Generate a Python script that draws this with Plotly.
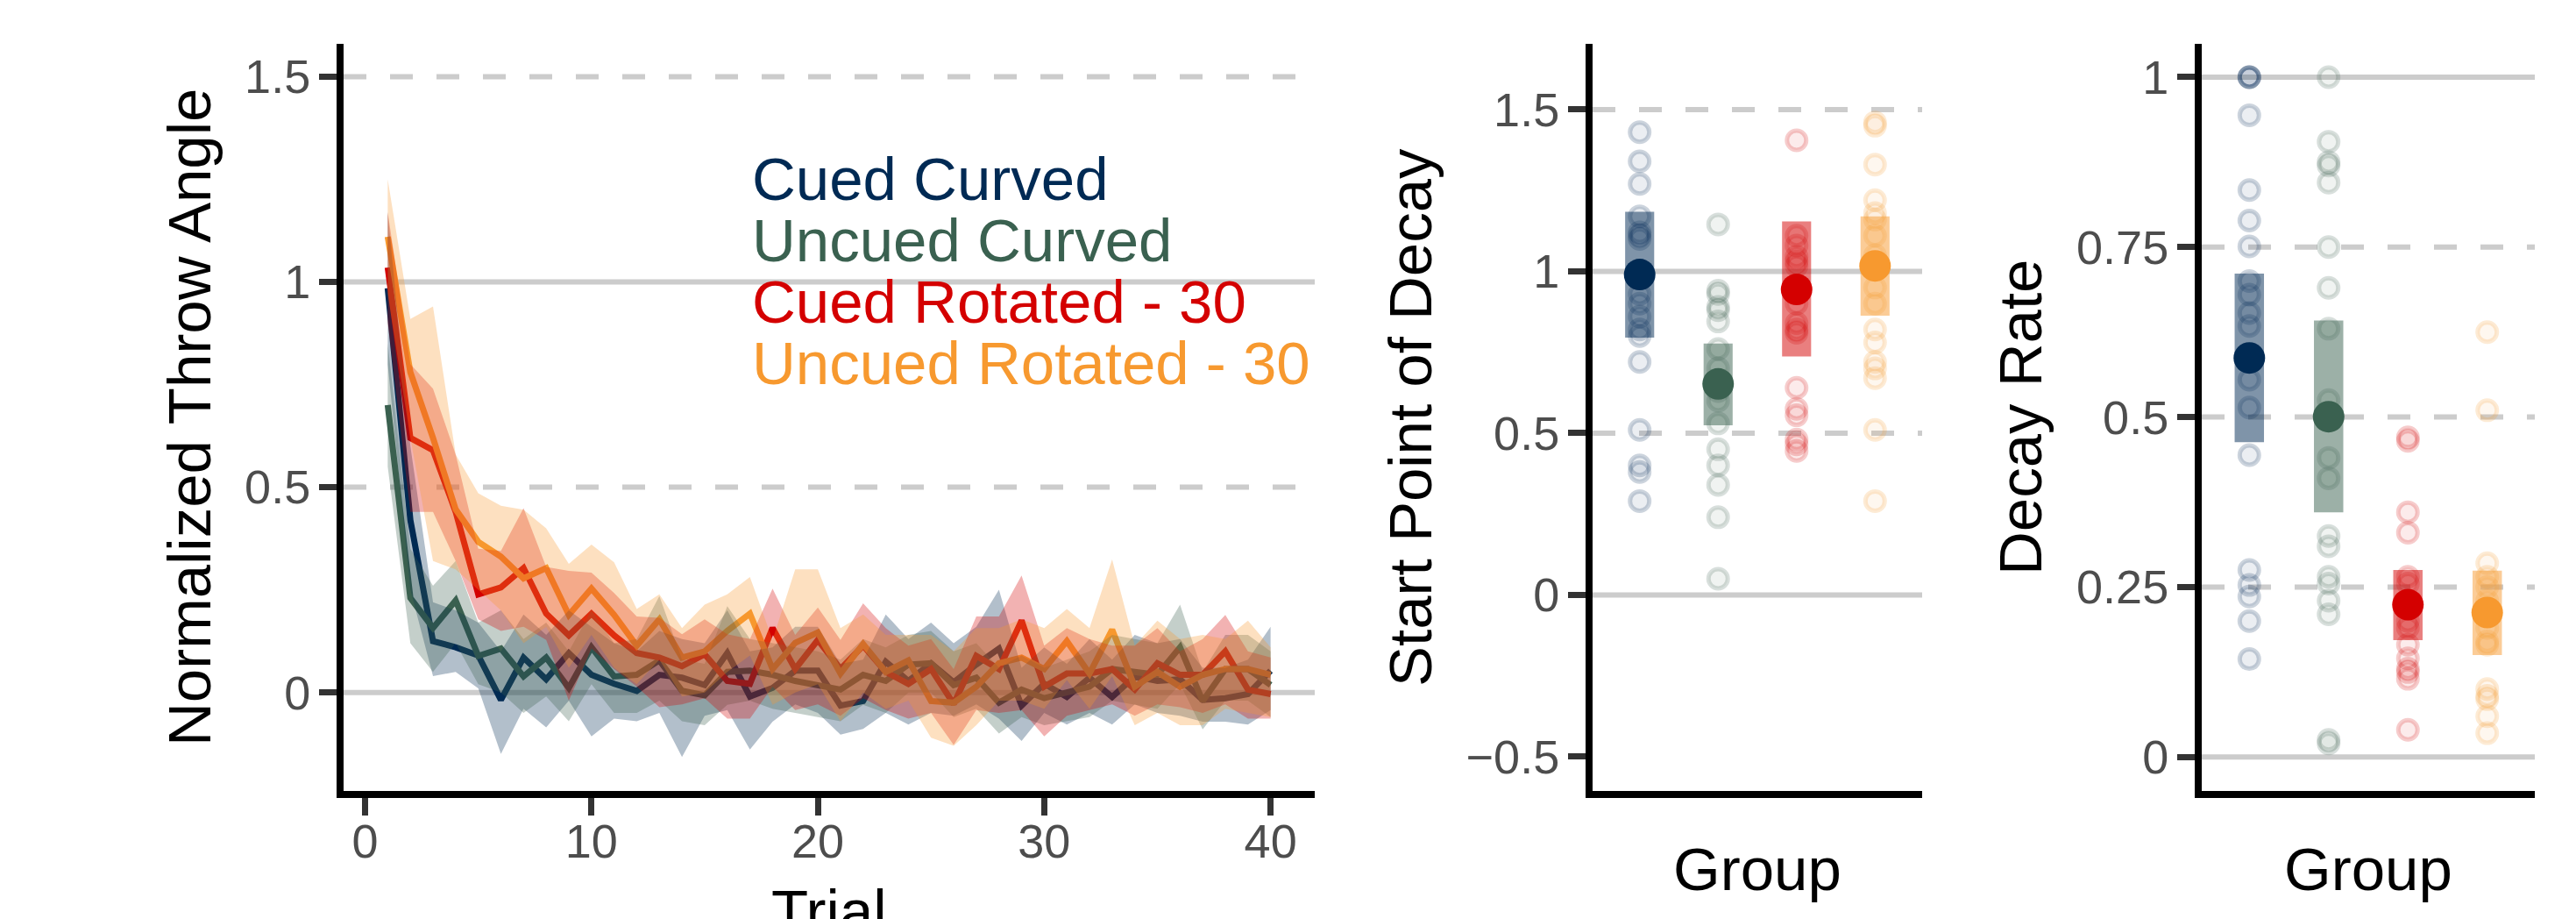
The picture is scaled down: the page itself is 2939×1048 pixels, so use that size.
import plotly.graph_objects as go

W, H = 2939, 1048

# ---------------- data ----------------
trials = list(range(1, 41))
group_names = ["Cued Curved", "Uncued Curved", "Cued Rotated - 30", "Uncued Rotated - 30"]
group_colors = ["#002A54", "#3A6150", "#D40000", "#F7992F"]
group_rgb = [(0, 42, 84), (58, 97, 80), (212, 0, 0), (247, 153, 47)]

cc_mean = [0.985, 0.42, 0.125, 0.11, 0.09, -0.018, 0.085, 0.032, 0.096, 0.043, 0.021, 0.004, 0.043, 0.036, 0.018, 0.096, -0.01, 0.011, 0.053, 0.053,
           -0.032, -0.021, 0.075, 0.028, 0.071, 0.025, 0.068, 0.107, -0.032, 0.021, -0.011, 0.036, -0.011, 0.039, 0.028, 0.032, -0.018, -0.014, -0.004, 0.053]
cc_lo = [0.80, 0.25, 0.04, 0.05, 0.01, -0.15, -0.04, -0.085, -0.02, -0.107, -0.064, -0.07, -0.05, -0.157, -0.057, -0.043, -0.139, -0.071, -0.029, -0.05,
         -0.103, -0.089, -0.05, -0.078, -0.05, -0.057, -0.029, -0.064, -0.118, -0.05, -0.078, -0.05, -0.078, -0.029, -0.05, -0.057, -0.071, -0.071, -0.078, -0.043]
cc_hi = [1.17, 0.60, 0.22, 0.20, 0.17, 0.10, 0.19, 0.14, 0.20, 0.16, 0.12, 0.10, 0.15, 0.13, 0.12, 0.20, 0.10, 0.11, 0.16, 0.16,
         0.07, 0.08, 0.19, 0.13, 0.17, 0.12, 0.16, 0.25, 0.06, 0.11, 0.07, 0.13, 0.08, 0.14, 0.12, 0.13, 0.06, 0.06, 0.08, 0.16]

uc_mean = [0.70, 0.23, 0.157, 0.224, 0.089, 0.107, 0.039, 0.085, 0.011, 0.110, 0.039, 0.043, 0.078, 0.004, -0.007, 0.050, 0.053, 0.043, 0.028, 0.018,
           0.007, 0.043, 0.028, 0.068, 0.071, 0.018, 0.036, -0.025, 0.007, -0.014, 0.0, 0.014, 0.057, 0.050, 0.043, 0.110, -0.021, 0.057, 0.057, 0.018]
uc_lo = [0.55, 0.12, 0.05, 0.12, 0.02, 0.0, -0.05, -0.01, -0.07, 0.02, -0.05, -0.05, -0.02, -0.07, -0.08, -0.03, -0.02, -0.04, -0.05, -0.06,
         -0.07, -0.03, -0.05, 0.0, 0.0, -0.06, -0.04, -0.10, -0.06, -0.08, -0.07, -0.06, -0.02, -0.03, -0.04, 0.02, -0.09, -0.02, -0.02, -0.06]
uc_hi = [0.85, 0.35, 0.26, 0.32, 0.17, 0.20, 0.13, 0.17, 0.10, 0.20, 0.12, 0.13, 0.235, 0.08, 0.07, 0.21, 0.13, 0.12, 0.11, 0.10,
         0.08, 0.13, 0.11, 0.14, 0.15, 0.10, 0.12, 0.06, 0.09, 0.06, 0.08, 0.10, 0.14, 0.13, 0.12, 0.214, 0.05, 0.14, 0.14, 0.10]

cr_mean = [1.035, 0.62, 0.59, 0.44, 0.239, 0.256, 0.303, 0.192, 0.139, 0.192, 0.139, 0.096, 0.085, 0.064, 0.093, 0.028, 0.021, 0.157, 0.057, 0.128,
           0.057, 0.114, 0.05, 0.021, 0.057, -0.028, 0.089, 0.057, 0.175, 0.014, 0.046, 0.046, 0.057, 0.007, 0.071, 0.043, 0.043, 0.10, 0.007, -0.004]
cr_lo = [0.90, 0.44, 0.44, 0.32, 0.178, 0.15, 0.16, 0.128, -0.02, 0.107, 0.057, 0.014, -0.036, -0.029, -0.014, -0.064, -0.064, 0.014, -0.043, -0.029,
         -0.057, -0.014, -0.043, -0.064, -0.05, -0.128, -0.043, -0.05, -0.043, -0.107, -0.057, -0.043, -0.029, -0.057, -0.029, -0.036, -0.05, -0.029, -0.064, -0.064]
cr_hi = [1.17, 0.80, 0.74, 0.58, 0.35, 0.345, 0.449, 0.306, 0.296, 0.292, 0.242, 0.185, 0.182, 0.142, 0.178, 0.142, 0.13, 0.253, 0.14, 0.207,
         0.128, 0.217, 0.157, 0.114, 0.13, 0.057, 0.185, 0.185, 0.285, 0.114, 0.157, 0.13, 0.114, 0.114, 0.157, 0.10, 0.13, 0.189, 0.10, 0.085]

ur_mean = [1.11, 0.78, 0.62, 0.446, 0.367, 0.331, 0.278, 0.303, 0.189, 0.253, 0.189, 0.114, 0.178, 0.085, 0.10, 0.15, 0.192, 0.057, 0.121, 0.146,
           0.046, 0.118, 0.05, 0.078, -0.021, -0.025, 0.014, 0.071, 0.085, 0.057, 0.125, 0.046, 0.153, 0.014, 0.05, 0.014, 0.043, 0.057, 0.057, 0.043]
ur_lo = [0.97, 0.62, 0.32, 0.30, 0.25, 0.20, 0.12, 0.16, 0.06, 0.14, 0.06, 0.02, 0.08, -0.01, 0.0, 0.05, 0.09, -0.03, 0.0, 0.02,
         -0.07, 0.0, -0.04, -0.02, -0.11, -0.13, -0.08, -0.02, -0.02, -0.04, 0.03, -0.04, 0.04, -0.08, -0.05, -0.08, -0.08, -0.04, -0.05, -0.06]
ur_hi = [1.25, 0.91, 0.94, 0.58, 0.485, 0.455, 0.445, 0.40, 0.313, 0.36, 0.317, 0.203, 0.239, 0.157, 0.214, 0.239, 0.281, 0.128, 0.30, 0.30,
         0.157, 0.19, 0.14, 0.14, 0.14, 0.10, 0.157, 0.157, 0.178, 0.157, 0.203, 0.157, 0.324, 0.114, 0.175, 0.13, 0.14, 0.13, 0.175, 0.11]

# Start point of decay (per participant), group means and interval bounds
sp_cc = [1.43, 1.34, 1.27, 1.17, 1.12, 1.11, 1.10, 0.93, 0.90, 0.86, 0.82, 0.80, 0.72, 0.51, 0.40, 0.38, 0.29]
sp_uc = [1.145, 0.94, 0.93, 0.89, 0.88, 0.845, 0.76, 0.70, 0.63, 0.60, 0.53, 0.45, 0.40, 0.34, 0.24, 0.05]
sp_cr = [1.405, 1.11, 1.08, 1.045, 1.03, 1.017, 0.90, 0.84, 0.82, 0.81, 0.64, 0.575, 0.555, 0.48, 0.465, 0.445]
sp_ur = [1.46, 1.45, 1.33, 1.22, 1.18, 1.16, 1.11, 1.05, 0.95, 0.90, 0.82, 0.78, 0.72, 0.70, 0.67, 0.51, 0.29]
sp_mean = [0.99, 0.652, 0.944, 1.017]
sp_lo = [0.795, 0.524, 0.737, 0.863]
sp_hi = [1.184, 0.777, 1.154, 1.170]

# Decay rate
dr_cc = [1.0, 1.0, 1.0, 0.944, 0.834, 0.789, 0.751, 0.70, 0.68, 0.653, 0.634, 0.555, 0.514, 0.444, 0.275, 0.253, 0.236, 0.20, 0.144]
dr_uc = [1.0, 0.905, 0.875, 0.87, 0.845, 0.75, 0.69, 0.63, 0.525, 0.44, 0.41, 0.325, 0.31, 0.265, 0.255, 0.23, 0.21, 0.025, 0.02]
dr_cr = [0.47, 0.465, 0.36, 0.33, 0.265, 0.255, 0.20, 0.19, 0.165, 0.145, 0.13, 0.125, 0.115, 0.04]
dr_ur = [0.625, 0.51, 0.285, 0.265, 0.25, 0.23, 0.19, 0.17, 0.165, 0.10, 0.09, 0.085, 0.06, 0.035]
dr_mean = [0.587, 0.5006, 0.224, 0.2125]
dr_lo = [0.463, 0.36, 0.172, 0.150]
dr_hi = [0.711, 0.642, 0.275, 0.274]

left_ticks = [0, 10, 20, 30, 40]
sp_ticks = [-0.5, 0, 0.5, 1, 1.5]
sp_ticktext = ["\u22120.5", "0", "0.5", "1", "1.5"]
ang_ticks = [0, 0.5, 1, 1.5]
ang_ticktext = ["0", "0.5", "1", "1.5"]
dr_ticks = [0, 0.25, 0.5, 0.75, 1]
dr_ticktext = ["0", "0.25", "0.5", "0.75", "1"]

# ---------------- helpers ----------------
def fx(p):
    return p / W

def fy(p):
    return 1 - p / H

def rgba(rgb, a):
    return "rgba(%d,%d,%d,%.3f)" % (rgb[0], rgb[1], rgb[2], a)

FONT = "Liberation Sans, Arial, sans-serif"
fig = go.Figure()

# ---------------- left panel ----------------
series = [(cc_mean, cc_lo, cc_hi), (uc_mean, uc_lo, uc_hi), (cr_mean, cr_lo, cr_hi), (ur_mean, ur_lo, ur_hi)]
for (m, lo, hi), col in zip(series, group_colors):
    fig.add_trace(go.Scatter(x=trials, y=m, mode="lines", line=dict(color=col, width=7),
                             hoverinfo="skip", xaxis="x", yaxis="y"))
for (m, lo, hi), rgb in zip(series, group_rgb):
    fig.add_trace(go.Scatter(x=trials + trials[::-1], y=hi + lo[::-1], mode="lines", fill="toself",
                             fillcolor=rgba(rgb, 0.3), line=dict(width=0), hoverinfo="skip",
                             xaxis="x", yaxis="y"))

# ---------------- dot panels ----------------
def dot_panel(points, means, los, his, xa, ya):
    gx = [1, 2, 3, 4]
    fig.add_trace(go.Bar(x=gx, y=[h - l for h, l in zip(his, los)], base=los, width=0.37,
                         marker=dict(color=[rgba(c, 0.5) for c in group_rgb], line=dict(width=0)),
                         hoverinfo="skip", xaxis=xa, yaxis=ya))
    for i, pts in enumerate(points):
        fig.add_trace(go.Scatter(x=[gx[i]] * len(pts), y=pts, mode="markers",
                                 marker=dict(size=22, color=rgba(group_rgb[i], 0.08),
                                             line=dict(width=5, color=rgba(group_rgb[i], 0.2))),
                                 hoverinfo="skip", xaxis=xa, yaxis=ya))
    fig.add_trace(go.Scatter(x=gx, y=means, mode="markers",
                             marker=dict(size=36, color=group_colors, line=dict(width=0)),
                             hoverinfo="skip", xaxis=xa, yaxis=ya))

dot_panel([sp_cc, sp_uc, sp_cr, sp_ur], sp_mean, sp_lo, sp_hi, "x2", "y2")
dot_panel([dr_cc, dr_uc, dr_cr, dr_ur], dr_mean, dr_lo, dr_hi, "x3", "y3")

# ---------------- reference lines ----------------
shapes = []
def hlines(yref, xdom, vals):
    for v, d in vals:
        shapes.append(dict(type="line", xref=xdom, yref=yref, x0=0, x1=1, y0=v, y1=v,
                           line=dict(color="#CCCCCC", width=6, dash=("solid" if d == "s" else "26px,27px")),
                           layer="below"))

hlines("y", "x domain", [(0, "s"), (0.5, "d"), (1, "s"), (1.5, "d")])
hlines("y2", "x2 domain", [(0, "s"), (0.5, "d"), (1, "s"), (1.5, "d")])
hlines("y3", "x3 domain", [(0, "s"), (0.25, "d"), (0.5, "d"), (0.75, "d"), (1, "s")])

# ---------------- axes ----------------
tickfont = dict(family=FONT, size=54, color="#4D4D4D")
ydom = [fy(902), fy(50)]
common_y = dict(showline=True, linewidth=8, linecolor="black", ticks="outside", ticklen=20, tickwidth=7,
                tickcolor="#333333", tickfont=tickfont, showgrid=False, zeroline=False, ticklabelstandoff=-1)

fig.update_layout(
    width=W, height=H, margin=dict(l=0, r=0, t=0, b=0),
    plot_bgcolor="white", paper_bgcolor="white", showlegend=False, barmode="overlay",
    xaxis=dict(domain=[fx(392), fx(1500)], range=[-0.95, 41.95], tickvals=left_ticks,
               showline=True, linewidth=8, linecolor="black", ticks="outside", ticklen=20, tickwidth=7,
               tickcolor="#333333", tickfont=tickfont, showgrid=False, zeroline=False, anchor="y",
               ticklabelstandoff=-17),
    yaxis=dict(domain=ydom, range=[-0.24, 1.58], tickvals=ang_ticks, ticktext=ang_ticktext, anchor="x", **common_y),
    xaxis2=dict(domain=[fx(1817), fx(2193)], range=[0.4, 4.6], showline=True, linewidth=8, linecolor="black",
                showticklabels=False, ticks="", showgrid=False, zeroline=False, anchor="y2"),
    yaxis2=dict(domain=ydom, range=[-0.606, 1.703], tickvals=sp_ticks, ticktext=sp_ticktext, anchor="x2", **common_y),
    xaxis3=dict(domain=[fx(2512), fx(2892)], range=[0.4, 4.6], showline=True, linewidth=8, linecolor="black",
                showticklabels=False, ticks="", showgrid=False, zeroline=False, anchor="y3"),
    yaxis3=dict(domain=ydom, range=[-0.05, 1.049], tickvals=dr_ticks, ticktext=dr_ticktext, anchor="x3", **common_y),
    shapes=shapes,
)

# ---------------- text ----------------
ann = []
title_font = dict(family=FONT, size=69, color="black")
ann.append(dict(text="Normalized Throw Angle", x=fx(217), y=fy(476), xref="paper", yref="paper",
                textangle=-90, xanchor="center", yanchor="middle", showarrow=False, font=title_font))
ann.append(dict(text="Start Point of Decay", x=fx(1610), y=fy(476), xref="paper", yref="paper",
                textangle=-90, xanchor="center", yanchor="middle", showarrow=False, font=title_font))
ann.append(dict(text="Decay Rate", x=fx(2306), y=fy(476), xref="paper", yref="paper",
                textangle=-90, xanchor="center", yanchor="middle", showarrow=False, font=title_font))
ann.append(dict(text="Trial", x=fx(946), y=fy(1039), xref="paper", yref="paper",
                xanchor="center", yanchor="middle", showarrow=False, font=title_font))
ann.append(dict(text="Group", x=fx(2005), y=fy(991), xref="paper", yref="paper",
                xanchor="center", yanchor="middle", showarrow=False, font=title_font))
ann.append(dict(text="Group", x=fx(2702), y=fy(991), xref="paper", yref="paper",
                xanchor="center", yanchor="middle", showarrow=False, font=title_font))
for name, col, base in zip(group_names, group_colors, [229, 298, 368, 438]):
    ann.append(dict(text=name, x=fx(856), y=fy(base - 24), xref="paper", yref="paper",
                    xanchor="left", yanchor="middle", showarrow=False,
                    font=dict(family=FONT, size=69, color=col)))
fig.update_layout(annotations=ann)

fig.write_html("out.html")
